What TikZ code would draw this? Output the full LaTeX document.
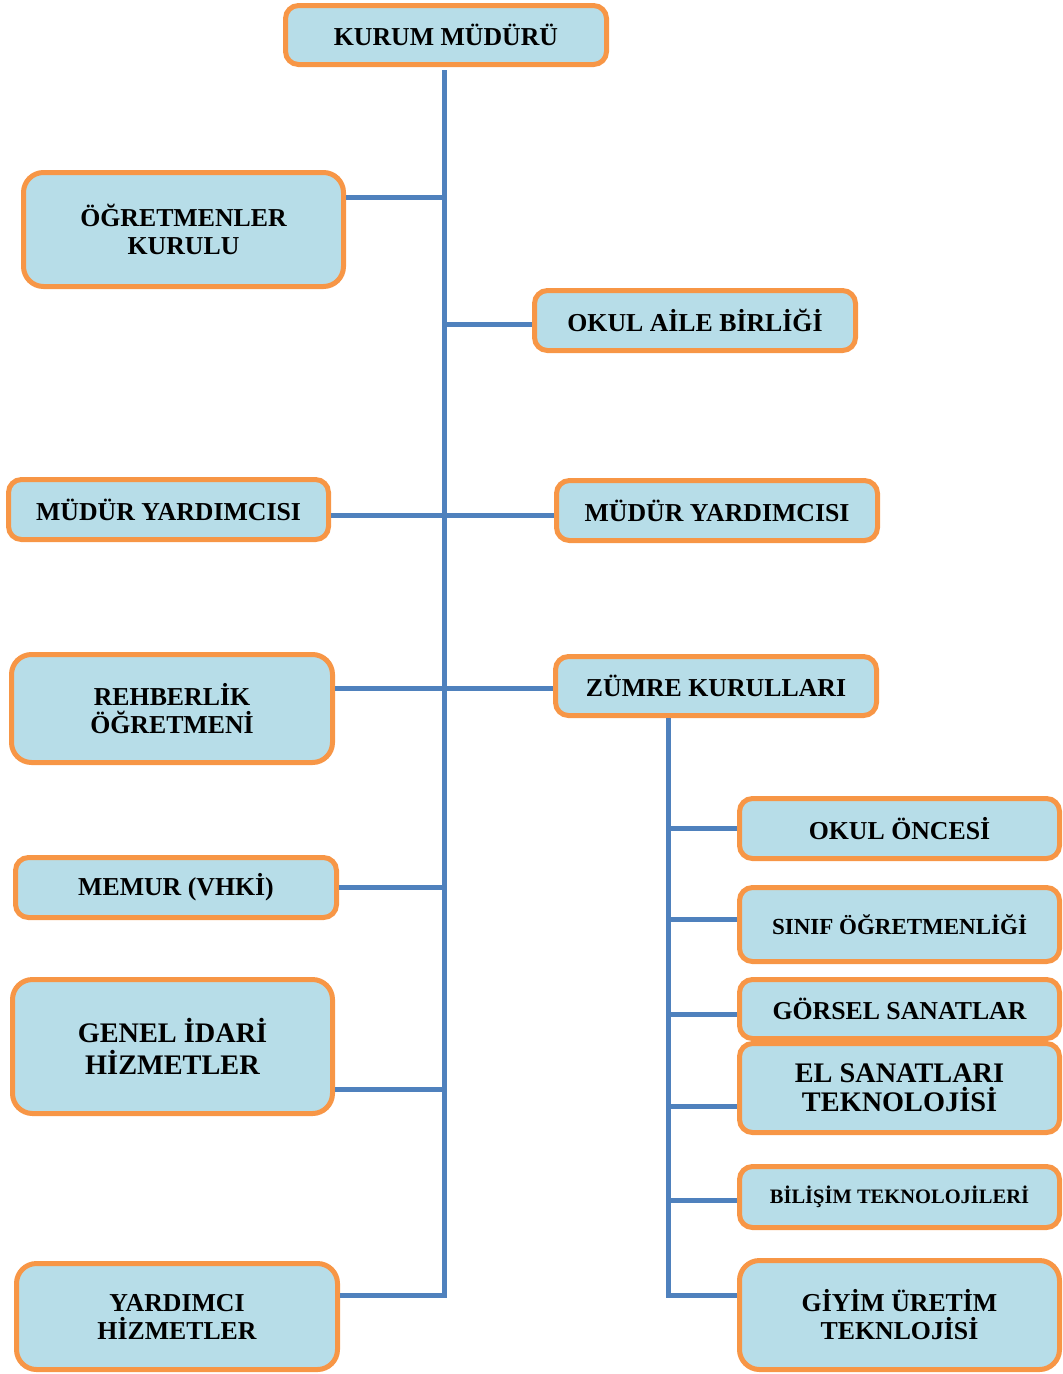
\documentclass[tikz,border=0pt]{standalone}
\usepackage{fontspec}
\setmainfont{Liberation Serif}
\begin{document}
\begin{tikzpicture}[x=1pt,y=-1pt,
  box/.style={draw=boxborder, fill=boxfill, line width=5pt, rounded corners=13pt,
    align=center, inner sep=0pt, font=\bfseries\fontsize{25.8}{28}\selectfont},
  bigbox/.style={box, rounded corners=20pt},
  link/.style={draw=linkblue, line width=5pt}]
\definecolor{boxfill}{HTML}{B7DDE8}
\definecolor{boxborder}{HTML}{F79646}
\definecolor{linkblue}{HTML}{4F81BD}
\useasboundingbox (0,0) rectangle (1063,1374);

% nodes
\node[box, minimum width=321pt, minimum height=59pt] (kurum) at (446,35) {KURUM MÜDÜRÜ};
\node[bigbox, minimum width=320pt, minimum height=114pt] (ogret) at (183.5,229.5) {ÖĞRETMENLER\\KURULU};
\node[box, minimum width=321pt, minimum height=60pt] (okul) at (695,320.5) {OKUL AİLE BİRLİĞİ};
\node[box, minimum width=320pt, minimum height=60pt] (myl) at (168.5,509.5) {MÜDÜR YARDIMCISI};
\node[box, minimum width=321pt, minimum height=60pt] (myr) at (717,510.5) {MÜDÜR YARDIMCISI};
\node[bigbox, minimum width=321pt, minimum height=108pt] (rehber) at (172,708.5) {REHBERLİK\\ÖĞRETMENİ};
\node[box, minimum width=321pt, minimum height=59pt] (zumre) at (716,686) {ZÜMRE KURULLARI};
\node[box, minimum width=321pt, minimum height=60pt] (memur) at (176,887.5) {MEMUR (VHKİ)};
\node[bigbox, minimum width=320pt, minimum height=134pt, font=\bfseries\fontsize{28.3}{32}\selectfont] (genel) at (172.5,1046.5) {GENEL İDARİ\\HİZMETLER};
\node[bigbox, minimum width=321pt, minimum height=106pt] (yard) at (177,1316.5) {YARDIMCI\\HİZMETLER};
\node[box, minimum width=320pt, minimum height=60pt] (oncesi) at (899.5,828.5) {OKUL ÖNCESİ};
\node[box, minimum width=320pt, minimum height=74pt, font=\bfseries\fontsize{23}{26}\selectfont] (sinif) at (899.5,924.5) {SINIF ÖĞRETMENLİĞİ};
\node[box, minimum width=320pt, minimum height=59pt] (gorsel) at (899.5,1009) {GÖRSEL SANATLAR};
\node[box, minimum width=320pt, minimum height=89pt, font=\bfseries\fontsize{28.3}{29}\selectfont] (el) at (899.5,1088) {EL SANATLARI\\TEKNOLOJİSİ};
\node[box, minimum width=320pt, minimum height=61pt, font=\bfseries\fontsize{20.5}{23}\selectfont] (bilisim) at (899.5,1197) {BİLİŞİM TEKNOLOJİLERİ};
\node[bigbox, minimum width=320pt, minimum height=109pt] (giyim) at (899.5,1315) {GİYİM ÜRETİM\\TEKNLOJİSİ};

% main trunk
\coordinate (tTop) at (444,70);
\coordinate (tO) at (444,197);
\coordinate (tA) at (444,324);
\coordinate (tM) at (444,515);
\coordinate (tR) at (444,688);
\coordinate (tMe) at (444,887);
\coordinate (tG) at (444,1089);
\coordinate (tBot) at (444,1295);
\draw[link] (tTop) -- (tBot) -- (tBot -| yard.east);
\draw[link] (tO -| ogret.east) -- (tO);
\draw[link] (tA) -- (tA -| okul.west);
\draw[link] (tM -| myl.east) -- (tM -| myr.west);
\draw[link] (tR -| rehber.east) -- (tR -| zumre.west);
\draw[link] (tMe -| memur.east) -- (tMe);
\draw[link] (tG -| genel.east) -- (tG);

% zumre trunk
\coordinate (zTop) at (668,718);
\coordinate (z1) at (668,828);
\coordinate (z2) at (668,919);
\coordinate (z3) at (668,1014);
\coordinate (z4) at (668,1106);
\coordinate (z5) at (668,1200);
\coordinate (zBot) at (668,1295);
\draw[link] (zTop) -- (zBot) -- (zBot -| giyim.west);
\draw[link] (z1) -- (z1 -| oncesi.west);
\draw[link] (z2) -- (z2 -| sinif.west);
\draw[link] (z3) -- (z3 -| gorsel.west);
\draw[link] (z4) -- (z4 -| el.west);
\draw[link] (z5) -- (z5 -| bilisim.west);
\end{tikzpicture}
\end{document}
